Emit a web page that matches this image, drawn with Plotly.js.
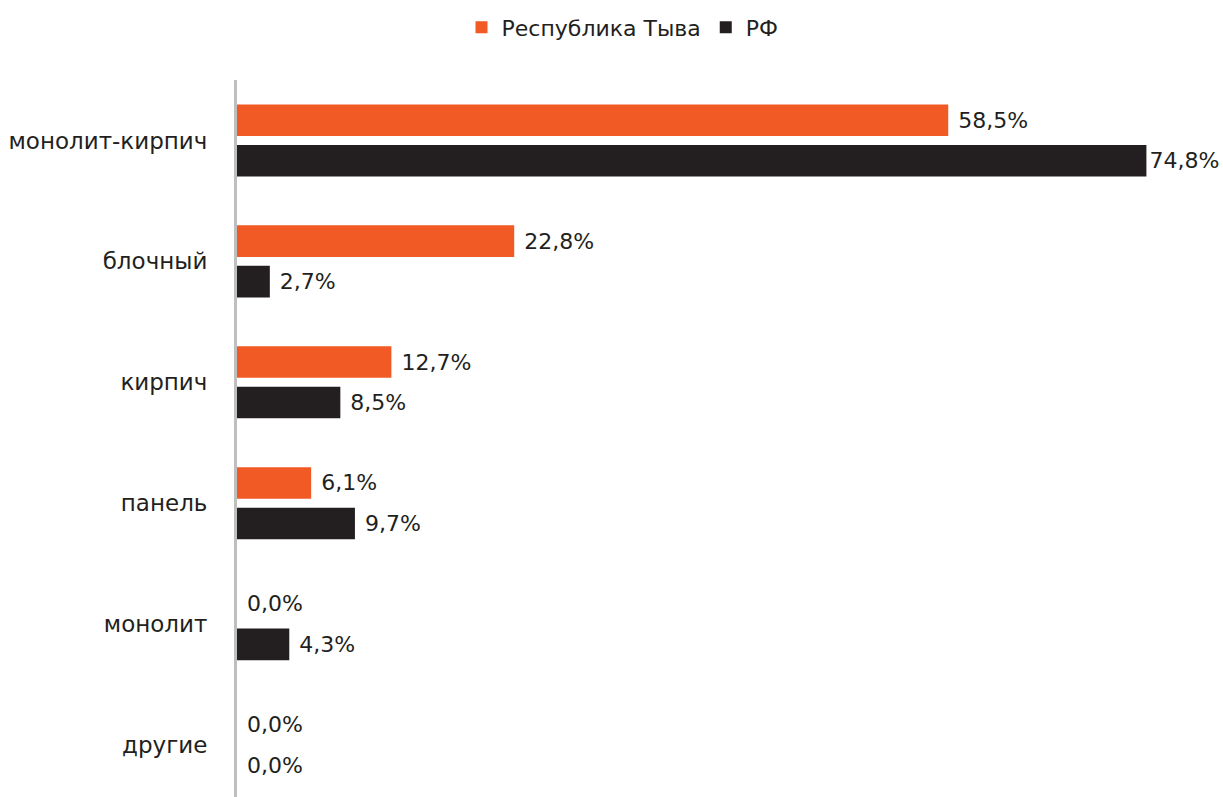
<!DOCTYPE html>
<html>
<head>
<meta charset="utf-8">
<script src="https://cdn.plot.ly/plotly-3.0.1.min.js"></script>
<style>html,body{margin:0;padding:0;background:#fff;}#chart{width:1223px;height:797px;}</style>
</head>
<body>
<div id="chart"></div>
<script>
const categories = ["монолит-кирпич", "блочный", "кирпич", "панель", "монолит", "другие"];
const tyva = [58.5, 22.8, 12.7, 6.1, 0.0, 0.0];
const rf = [74.8, 2.7, 8.5, 9.7, 4.3, 0.0];
const seriesNames = ["Республика Тыва", "РФ"];
const maxVal = Math.max(...tyva, ...rf);
const fmt = v => (v < maxVal ? "\u00a0" : "") + v.toFixed(1).replace(".", ",") + "%";
const FONT = "DejaVu Sans, sans-serif";
const TXT = "#231f20";

const traces = [
  {name: seriesNames[0], values: tyva, color: "#f15a24"},
  {name: seriesNames[1], values: rf, color: "#231f20"}
].map(s => ({
  type: "bar", orientation: "h", name: s.name,
  y: categories, x: s.values,
  marker: {color: s.color},
  text: s.values.map(fmt), textposition: "outside",
  textfont: {family: FONT, size: 22, color: TXT},
  cliponaxis: false, hoverinfo: "skip"
}));

const layout = {
  width: 1223, height: 797,
  margin: {l: 237, r: 0, t: 80, b: 0},
  paper_bgcolor: "#fff", plot_bgcolor: "#fff",
  barmode: "group", bargap: 0.33, bargroupgap: 0.22,
  showlegend: true,
  legend: {orientation: "h", xref: "container", yref: "container", x: 0.509, y: 0.992, xanchor: "center", yanchor: "top",
           font: {family: FONT, size: 22, color: TXT}, tracegroupgap: 0},
  xaxis: {range: [0, 81.1], visible: false, fixedrange: true},
  yaxis: {type: "category", range: [5.43, -0.5], showline: true, linecolor: "#bfbfbf", linewidth: 3,
          showgrid: false, zeroline: false, ticks: "", ticklabelstandoff: 22,
          tickfont: {family: FONT, size: 23, color: TXT}, fixedrange: true},
  font: {family: FONT}
};
Plotly.newPlot("chart", traces, layout, {staticPlot: true, displayModeBar: false});
</script>
</body>
</html>
